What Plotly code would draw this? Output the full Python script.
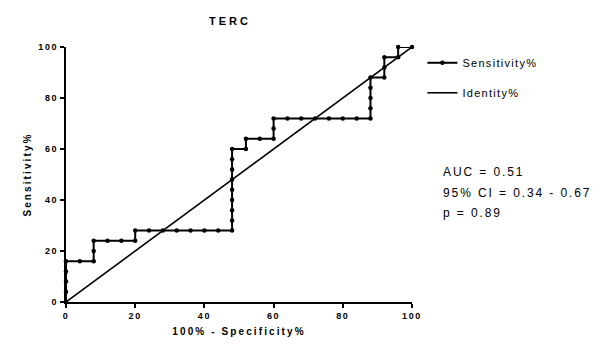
import plotly.graph_objects as go

spec_x = [0, 0, 0, 0, 0, 4, 8, 8, 8, 12, 16, 20, 20, 24, 28, 32, 36, 40, 44, 48,
          48, 48, 48, 48, 48, 48, 48, 48, 52, 52, 56, 60, 60, 60, 64, 68, 72, 76, 80, 84, 88,
          88, 88, 88, 88, 92, 92, 92, 96, 96, 100]
sens_y = [0, 4, 8, 12, 16, 16, 16, 20, 24, 24, 24, 24, 28, 28, 28, 28, 28, 28, 28, 28,
          32, 36, 40, 44, 48, 52, 56, 60, 60, 64, 64, 64, 68, 72, 72, 72, 72, 72, 72, 72, 72,
          76, 80, 84, 88, 88, 92, 96, 96, 100, 100]
ident_x = [0, 100]
ident_y = [0, 100]
x_ticks = [0, 20, 40, 60, 80, 100]
y_ticks = [0, 20, 40, 60, 80, 100]
stats_lines = ["AUC = 0.51", "95% CI = 0.34 - 0.67", "p = 0.89"]

fig = go.Figure()
fig.add_trace(go.Scatter(x=spec_x, y=sens_y, mode="lines+markers", name="Sensitivity%",
                         legendgroup="a",
                         line=dict(color="black", width=2), marker=dict(color="black", size=4.5),
                         cliponaxis=False))
fig.add_trace(go.Scatter(x=ident_x, y=ident_y, mode="lines", name="Identity%",
                         legendgroup="b",
                         line=dict(color="black", width=1.6), cliponaxis=False))

font_fam = "Liberation Sans, Arial, sans-serif"
tick_font = dict(size=9, family=font_fam, weight="bold")
fig.update_layout(
    width=606, height=355,
    margin=dict(l=66, r=194, t=47, b=53),
    paper_bgcolor="white", plot_bgcolor="white",
    font=dict(family=font_fam, color="black"),
    showlegend=True,
    title=dict(text="<b>TERC</b>", xref="container", yref="container", x=230 / 606,
               y=1 - 21 / 355, xanchor="center", yanchor="middle", font=dict(size=11)),
    legend=dict(x=1.03, y=0.995, xanchor="left", yanchor="top", font=dict(size=11),
                bgcolor="rgba(0,0,0,0)", tracegroupgap=11, itemwidth=30),
    xaxis=dict(range=[0, 100], tickvals=x_ticks, showline=True, linecolor="black", linewidth=2,
               ticks="outside", ticklen=4, tickwidth=2, tickcolor="black", showgrid=False,
               zeroline=False, tickfont=tick_font,
               title=dict(text="<b>100% - Specificity%</b>", font=dict(size=10), standoff=8)),
    yaxis=dict(range=[0, 100], tickvals=y_ticks, showline=True, linecolor="black", linewidth=2,
               ticks="outside", ticklen=4, tickwidth=2, tickcolor="black", showgrid=False,
               zeroline=False, tickfont=tick_font,
               title=dict(text="<b>Sensitivity%</b>", font=dict(size=10), standoff=10)),
)
for i, line in enumerate(stats_lines):
    fig.add_annotation(text=line, xref="paper", yref="paper",
                       x=(441 - 66) / 346, y=(302 - 172) / 255, yshift=-20.5 * i,
                       xanchor="left", yanchor="middle", align="left",
                       showarrow=False, font=dict(size=12))

css = (".xtick text,.ytick text{letter-spacing:1.6px}"
       ".xtitle,.ytitle{letter-spacing:2.1px}"
       ".gtitle{letter-spacing:3px}"
       ".legendtext{letter-spacing:1.3px}"
       ".annotation-text{letter-spacing:1.9px}"
       ".legend .scrollbox,.legend{clip-path:none !important}")
post = ("var s=document.createElement('style');s.textContent='" + css +
        "';document.head.appendChild(s);")
fig.write_html("out.html", post_script=post)
